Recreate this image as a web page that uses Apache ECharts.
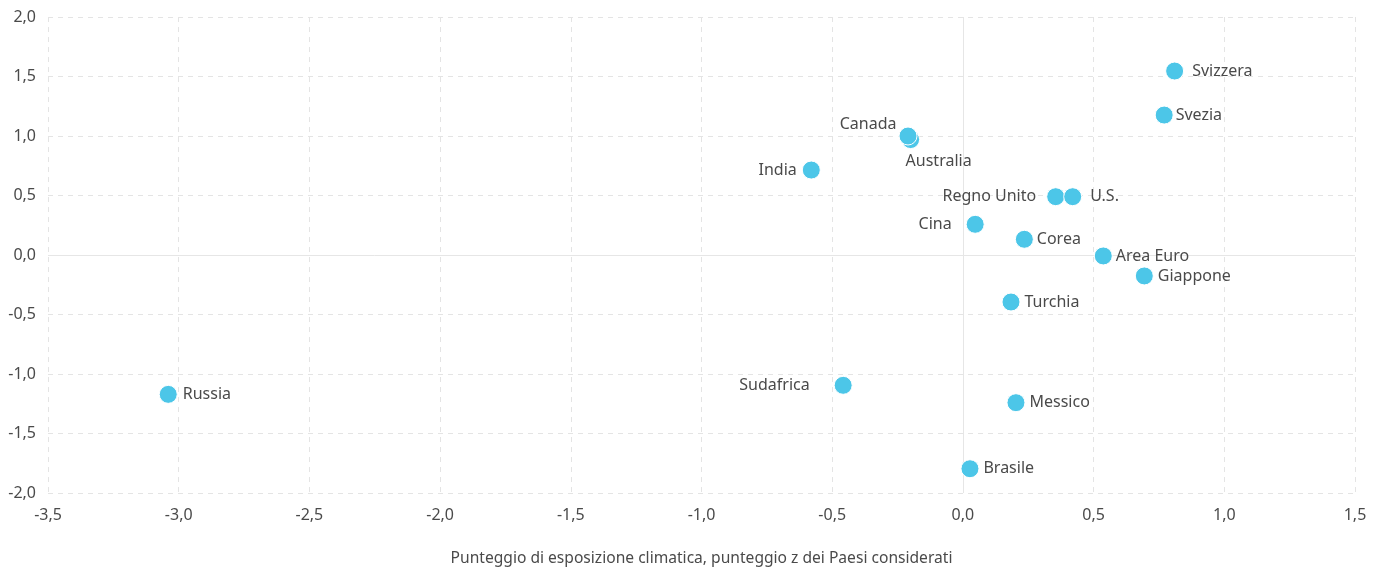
<!DOCTYPE html>
<html>
<head>
<meta charset="utf-8">
<script src="https://cdn.jsdelivr.net/npm/echarts@6/dist/echarts.min.js"></script>
<style>
  html, body { margin: 0; padding: 0; background: #fff; }
  #chart { width: 1381px; height: 569px; }
</style>
</head>
<body>
<div id="chart"></div>
<script>
// Climate exposure z-score (x) vs. second z-score (y) by country
const countries = ['Svizzera', 'Svezia', 'Australia', 'Canada', 'India', 'Regno Unito', 'U.S.', 'Cina', 'Corea',
  'Area Euro', 'Giappone', 'Turchia', 'Russia', 'Sudafrica', 'Messico', 'Brasile'];
const xValues = [0.81, 0.77, -0.20, -0.21, -0.58, 0.355, 0.42, 0.047, 0.235, 0.537, 0.694, 0.184, -3.04, -0.458, 0.203, 0.027];
const yValues = [1.546, 1.176, 0.97, 1.0, 0.714, 0.49, 0.49, 0.258, 0.132, -0.008, -0.176, -0.395, -1.171, -1.095, -1.241, -1.796];
const labelSide = ['right', 'right', 'bottom', 'left', 'left', 'left', 'right', 'left', 'right',
  'right', 'right', 'right', 'right', 'left', 'right', 'right'];
const labelGap = [8, 2, 4, 4, 5, 10, 8, 14, 3, 3, 4, 4, 5, 24, 4, 4];
const xTitle = 'Punteggio di esposizione climatica, punteggio z dei Paesi considerati';

const FONT = '"Noto Sans", sans-serif';
const TEXT = '#4a4a4a';

const fmt = v => v.toFixed(1).replace('.', ',');

const points = countries.map((name, i) => {
  const label = { position: labelSide[i], distance: labelGap[i] };
  if (name === 'Australia') { label.offset = [28, 0]; }
  if (name === 'Canada') { label.offset = [2, -12]; }
  return { name, value: [xValues[i], yValues[i]], label };
});

const chart = echarts.init(document.getElementById('chart'));
chart.setOption({
  animation: false,
  grid: { left: 48, right: 26, top: 17, bottom: 76, outerBoundsMode: 'none' },
  xAxis: {
    type: 'value', min: -3.5, max: 1.5, interval: 0.5,
    name: xTitle, nameLocation: 'middle', nameGap: 58,
    nameTextStyle: { fontFamily: FONT, fontSize: 15.6, color: TEXT },
    axisLine: { show: false }, axisTick: { show: false },
    axisLabel: { formatter: fmt, fontFamily: FONT, fontSize: 16, color: TEXT, margin: 14 },
    splitLine: { lineStyle: { type: [5, 5], color: '#e4e4e4' } }
  },
  yAxis: {
    type: 'value', min: -2, max: 2, interval: 0.5,
    axisLine: { show: false }, axisTick: { show: false },
    axisLabel: { formatter: fmt, fontFamily: FONT, fontSize: 16, color: TEXT, margin: 12 },
    splitLine: { lineStyle: { type: [5, 5], color: '#e4e4e4' } }
  },
  series: [{
    type: 'scatter',
    symbolSize: 18,
    itemStyle: { color: '#4cc6e8', borderColor: '#fff', borderWidth: 1, opacity: 1 },
    label: { show: true, formatter: '{b}', fontFamily: FONT, fontSize: 16, color: TEXT },
    data: points,
    markLine: {
      silent: true, symbol: 'none', label: { show: false },
      lineStyle: { type: 'solid', color: '#e6e6e6', width: 1 },
      data: [{ xAxis: 0 }, { yAxis: 0 }],
      z: 1
    }
  }]
});
</script>
</body>
</html>
